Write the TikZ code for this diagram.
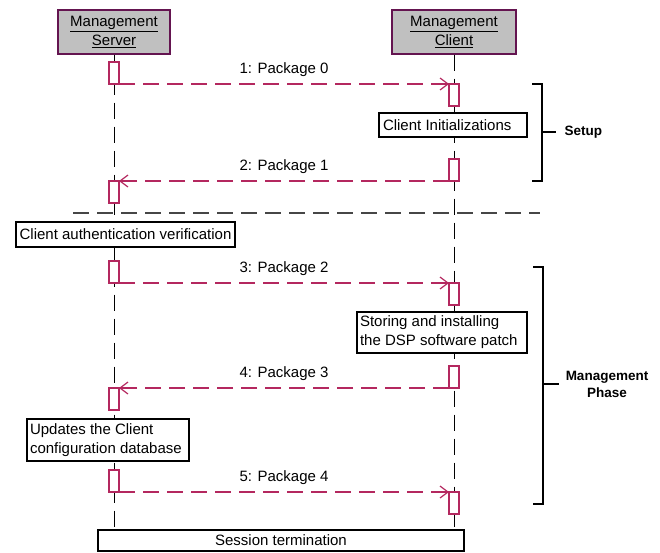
\documentclass[tikz,border=0pt]{standalone}
\usepackage{fontspec}
\setmainfont{Liberation Sans}
\usetikzlibrary{arrows.meta}
\definecolor{msgred}{RGB}{180,40,95}
\definecolor{headgray}{RGB}{192,192,192}
\definecolor{headedge}{RGB}{100,20,80}
\definecolor{sepgray}{RGB}{70,70,70}
\begin{document}
\begin{tikzpicture}[x=1pt, y=-1pt, >={Straight Barb[length=8pt,width=12pt]},
        every node/.style={font=\fontsize{15}{19}\selectfont},
        head/.style={draw=headedge, fill=headgray, line width=1.2pt, minimum height=44pt, align=center, inner sep=0pt},
        act/.style={draw=msgred, fill=white, line width=1.2pt, minimum width=10pt, minimum height=22pt, inner sep=0pt, outer sep=0pt},
        note/.style={draw, fill=white, line width=1.2pt, inner xsep=3pt, inner ysep=0pt, align=flush left},
        msg/.style={->, draw=msgred, line width=1.2pt, dash pattern=on 16pt off 8pt},
        life/.style={line width=1pt, dash pattern=on 16pt off 8pt},
        sep/.style={draw=sepgray, line width=1.4pt, dash pattern=on 16pt off 8pt},
        lbl/.style={inner sep=0pt},
        brace/.style={line width=1.3pt},
        phase/.style={font=\fontsize{13.5}{17}\selectfont\bfseries, align=center}]
        \useasboundingbox (0,0) rectangle (660,552);
        \node[head, minimum width=112pt] (srv) at (114,32) {\underline{Management}\\\underline{Server}};
        \node[head, minimum width=124pt] (cli) at (454,32) {\underline{Management}\\\underline{Client}};
        \node[note, align=center, inner sep=0pt, minimum width=366pt, minimum height=21pt] (term) at (281,540.5) {Session termination};
        \draw[life] (srv.south) -- (srv.south |- term.north);
        \draw[life] (cli.south) -- (cli.south |- term.north);
        \node[act] (sa1) at (114,73) {};
        \node[act] (ca1) at (454,95) {};
        \node[act] (ca2) at (454,170) {};
        \node[act] (sa2) at (114,192) {};
        \node[act] (sa3) at (114,272) {};
        \node[act] (ca3) at (454,294) {};
        \node[act] (ca4) at (454,377) {};
        \node[act] (sa4) at (114,399) {};
        \node[act] (sa5) at (114,481) {};
        \node[act] (ca5) at (454,503) {};
        \node[note, text width=140pt, inner xsep=4pt, minimum height=24pt] (init) at (453,125) {Client Initializations};
        \node[note, align=center, inner xsep=0pt, minimum width=219pt, minimum height=25pt] (auth) at (125.5,234.5) {Client authentication verification};
        \node[note, text width=164pt, minimum height=41pt] (store) at (442,332.5) {Storing and installing\\the DSP software patch};
        \node[note, text width=156pt, minimum height=42pt] (upd) at (108,440) {Updates the Client\\configuration database};
        \draw[msg] (sa1.south east) -- node[lbl, above=7pt] (l1) {1: Package 0} (ca1.north west);
        \draw[msg] (ca2.south west) -- node[lbl, above=7pt] (l2) {2: Package 1} (sa2.north east);
        \draw[msg] (sa3.south east) -- node[lbl, above=7pt] (l3) {3: Package 2} (ca3.north west);
        \draw[msg] (ca4.south west) -- node[lbl, above=7pt] (l4) {4: Package 3} (sa4.north east);
        \draw[msg] (sa5.south east) -- node[lbl, above=7pt] (l5) {5: Package 4} (ca5.north west);
        \draw[sep] (73,213) -- (540,213);
        % phases
        \draw[brace] (532,84) -- (542,84) -- (542,181) -- (532,181);
        \draw[brace] (542,132) -- (556,132);
        \node[phase, anchor=west] (setup) at (561,132) {Setup};
        \draw[brace] (533,267) -- (543,267) -- (543,504) -- (533,504);
        \draw[brace] (543,384) -- (559,384);
        \node[phase] (mgmt) at (607,384) {Management\\Phase};
\end{tikzpicture}
\end{document}
